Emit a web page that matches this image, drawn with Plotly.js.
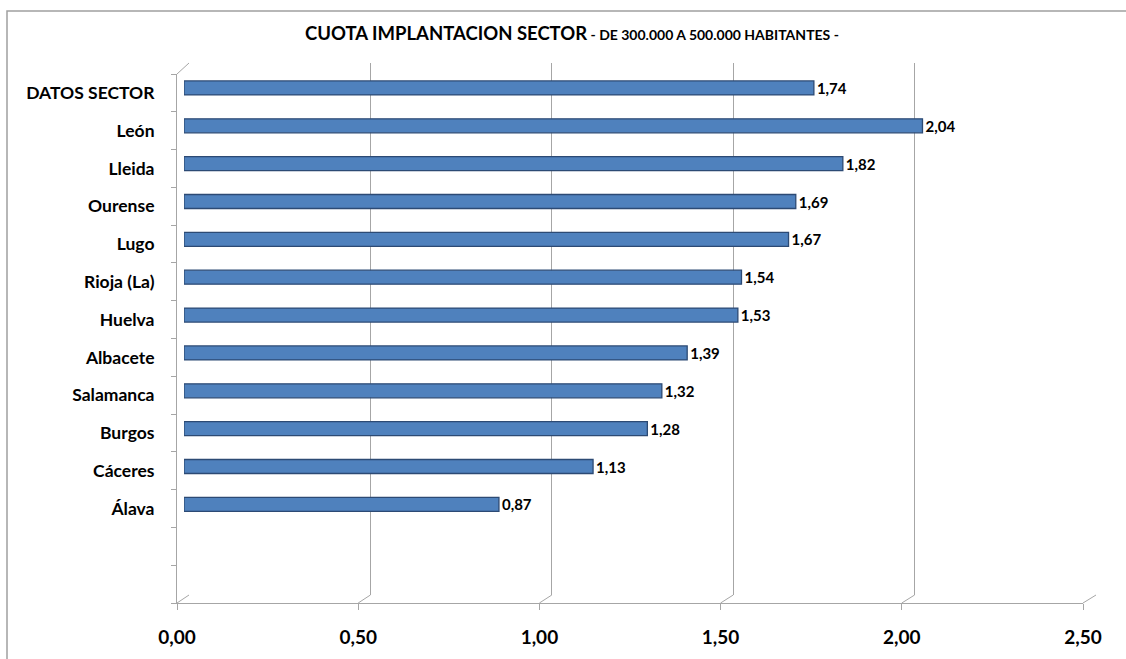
<!DOCTYPE html>
<html>
<head>
<meta charset="utf-8">
<script src="https://cdn.plot.ly/plotly-3.0.1.min.js"></script>
<style>html,body{margin:0;padding:0;background:#fff;}#chart{width:1126px;height:659px;}</style>
</head>
<body>
<div id="chart"></div>
<script>
// ---- data ----
const categories = ["DATOS SECTOR","León","Lleida","Ourense","Lugo","Rioja (La)","Huelva","Albacete","Salamanca","Burgos","Cáceres","Álava"];
const values = [1.74, 2.04, 1.82, 1.69, 1.67, 1.54, 1.53, 1.39, 1.32, 1.28, 1.13, 0.87];
const xTicks = [0, 0.5, 1.0, 1.5, 2.0, 2.5];
const nSlots = 14; // 12 categories + 2 empty slots at the bottom of the axis

// ---- layout helpers ----
const W = 1126, H = 659;
const px = x => x / W;
const py = y => 1 - y / H;
const FONT = "Lato, Liberation Sans, sans-serif";
const GRID = "#a6a6a6";

const idx = categories.map((c, i) => i);

const traces = [
  {type: "scatter", x: [], y: [], xaxis: "x", yaxis: "y", showlegend: false, hoverinfo: "skip"},
  {
    type: "bar", orientation: "h",
    x: values, y: idx,
    xaxis: "x2", yaxis: "y2",
    width: 0.37,
    marker: {color: "#4f81bd", line: {color: "#2c4a74", width: 1.3}},
    texttemplate: "%{x:.2f}", textposition: "outside", cliponaxis: false,
    constraintext: "none",
    textfont: {family: FONT, size: 15, color: "#000", weight: "bold"},
    showlegend: false, hoverinfo: "skip"
  },
  {type: "scatter", x: [], y: [], xaxis: "x3", yaxis: "y3", showlegend: false, hoverinfo: "skip"}
];

const shapes = [];
const frontX = v => 177 + v * (1083 - 177) / 2.5;
const backX = v => 189 + v * (1096 - 189) / 2.5;
xTicks.forEach(v => {
  shapes.push({type: "line", xref: "paper", yref: "paper",
    x0: px(frontX(v)), y0: py(603), x1: px(backX(v)), y1: py(595),
    line: {color: GRID, width: 1}});
});
shapes.push({type: "line", xref: "paper", yref: "paper",
  x0: px(177), y0: py(74), x1: px(189), y1: py(63), line: {color: GRID, width: 1}});
shapes.push({type: "rect", xref: "paper", yref: "paper",
  x0: px(7), y0: py(700), x1: px(1140), y1: py(11),
  line: {color: "#a0a0a0", width: 1.5}, fillcolor: "rgba(0,0,0,0)"});

const layout = {
  width: W, height: H,
  margin: {l: 0, r: 0, t: 0, b: 0},
  paper_bgcolor: "#fff", plot_bgcolor: "rgba(0,0,0,0)",
  separators: ",.",
  showlegend: false,
  font: {family: FONT, color: "#000"},
  title: {
    text: "<b>CUOTA IMPLANTACION SECTOR</b><b><span style='font-size:14px'> - DE 300.000 A 500.000 HABITANTES -</span></b>",
    font: {family: FONT, size: 18.5, color: "#000"},
    x: px(572), xanchor: "center", y: py(34), yanchor: "middle", yref: "container", xref: "container"
  },
  xaxis: {domain: [px(189), px(1096)], range: [0, 2.5], anchor: "y",
    tickvals: xTicks, showticklabels: false, ticks: "", showgrid: true, gridcolor: GRID, gridwidth: 1,
    zeroline: false, showline: false, fixedrange: true},
  yaxis: {domain: [py(595), py(63)], range: [0, 1], anchor: "x",
    showgrid: false, showticklabels: false, ticks: "", zeroline: false, showline: false, fixedrange: true},
  xaxis2: {domain: [px(184), px(184 + 362 * 2.5)], range: [0, 2.5], anchor: "y2",
    visible: false, fixedrange: true},
  yaxis2: {domain: [py(599), py(69)], range: [nSlots - 0.5, -0.5], anchor: "x2",
    visible: false, fixedrange: true},
  xaxis3: {domain: [px(177), px(1083)], range: [0, 2.5], anchor: "y3",
    tickvals: xTicks, tickformat: ".2f", ticks: "outside", ticklen: 6, tickcolor: GRID,
    showline: true, linecolor: GRID, linewidth: 1, showgrid: false, zeroline: false,
    ticklabelstandoff: 11,
    tickfont: {family: FONT, size: 19, color: "#000", weight: "bold"}, fixedrange: true},
  yaxis3: {domain: [py(603), py(74)], range: [nSlots, 0], anchor: "x3",
    tickvals: idx.map(i => i + 0.5), ticktext: categories, ticks: "",
    minor: {tick0: 0, dtick: 1, ticks: "outside", ticklen: 5, tickcolor: GRID, showgrid: false},
    showline: true, linecolor: GRID, linewidth: 1, showgrid: false, zeroline: false,
    ticklabelstandoff: 18,
    tickfont: {family: FONT, size: 17.5, color: "#000", weight: "bold"}, fixedrange: true},
  shapes: shapes
};

Plotly.newPlot("chart", traces, layout, {displayModeBar: false, staticPlot: true});
</script>
</body>
</html>
